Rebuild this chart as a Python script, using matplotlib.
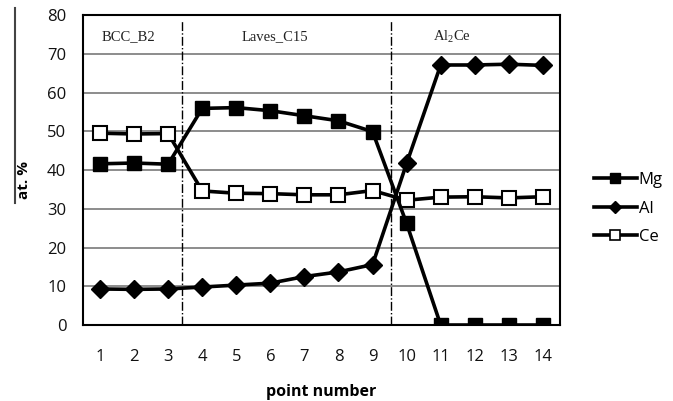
import matplotlib.pyplot as plt
from matplotlib.lines import Line2D

# composition along the line scan
points = list(range(1, 15))
mg = [41.6, 41.8, 41.5, 55.9, 56.1, 55.3, 54.0, 52.7, 49.9, 26.2, 0, 0, 0, 0]
al = [9.3, 9.2, 9.3, 9.8, 10.3, 10.8, 12.5, 13.7, 15.6, 41.7, 67.1, 67.1, 67.3, 67.0]
ce = [49.5, 49.3, 49.4, 34.6, 34.0, 33.9, 33.6, 33.6, 34.7, 32.2, 33.0, 33.1, 32.8, 33.1]

phases = ["BCC_B2", "Laves_C15", r"Al$\mathregular{_2}$Ce"]
phase_pos = [1.82, 6.14, 11.33]
boundaries = [3.41, 9.53]

plt.rcParams['font.family'] = ['Open Sans', 'DejaVu Sans']

fig = plt.figure(figsize=(6.73, 4.01), dpi=100)
ax = fig.add_axes([0.1233, 0.1895, 0.7087, 0.7731])

ax.set_xlim(0.5, 14.5)
ax.set_ylim(0, 80)
ax.set_yticks(range(0, 81, 10))
ax.set_xticks(points)
ax.tick_params(length=0, labelsize=12, labelcolor='#111111')
ax.tick_params(axis='y', pad=12)
ax.tick_params(axis='x', pad=17)

for y in range(10, 80, 10):
    ax.axhline(y, color='#8c8c8c', lw=1.4, zorder=1)

for b in boundaries:
    ax.plot([b, b], [0, 78.7], color='black', lw=1.0, ls='-.', zorder=2)

lw = 2.6
ax.plot(points, mg, color='black', lw=lw, marker='s', ms=10.5,
        mfc='black', mec='black', zorder=4)
ax.plot(points, al, color='black', lw=lw, marker='D', ms=9,
        mfc='black', mec='black', zorder=4)
ax.plot(points, ce, color='black', lw=lw, marker='s', ms=10,
        mfc='white', mec='black', mew=1.5, zorder=3)

for name, xp in zip(phases, phase_pos):
    ax.text(xp, 74.3, name, ha='center', va='center', fontsize=10.5,
            family='Liberation Serif', color='#222222')

for s in ax.spines.values():
    s.set_linewidth(1.5)

ax.set_xlabel("point number", fontsize=11.5, fontweight='bold', labelpad=14)
fig.text(0.035, 0.55, "at. %", rotation=90, ha='center', va='center',
         fontsize=11, fontweight='bold')
fig.add_artist(Line2D([0.022, 0.022], [0.493, 0.98], color='#444444', lw=1.5))

handles = [
    Line2D([], [], color='black', lw=lw, marker='s', ms=7, mfc='black'),
    Line2D([], [], color='black', lw=lw, marker='D', ms=6, mfc='black'),
    Line2D([], [], color='black', lw=lw, marker='s', ms=6.5, mfc='white', mew=1.2),
]
fig.legend(handles, ["Mg", "Al", "Ce"], loc='center left',
           bbox_to_anchor=(0.86, 0.48), frameon=False, fontsize=12,
           handlelength=2.6, handletextpad=0.1, labelspacing=0.75)

fig.savefig("out.png", dpi=100)
